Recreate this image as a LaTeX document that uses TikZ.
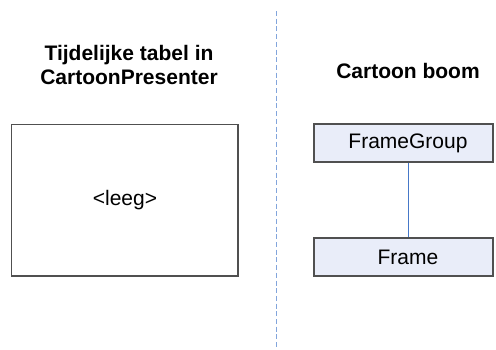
\documentclass[tikz,border=0pt]{standalone}
\usepackage{fontspec}
\setmainfont{Liberation Sans}
\definecolor{boxfill}{RGB}{233,237,249}
\definecolor{boxline}{RGB}{80,80,80}
\definecolor{divider}{RGB}{130,165,220}
\definecolor{link}{RGB}{70,120,200}
\begin{document}
\begin{tikzpicture}[x=1pt,y=-1pt,
  title/.style={font=\fontsize{21}{24}\selectfont\bfseries, align=center, inner sep=0pt},
  plainbox/.style={draw=boxline, line width=1.2pt, fill=white, minimum width=226.5pt, minimum height=151.5pt, inner sep=0pt, font=\fontsize{21}{24}\selectfont},
  treebox/.style={draw=boxline, line width=1.2pt, fill=boxfill, minimum width=179pt, minimum height=38pt, inner sep=0pt, font=\fontsize{21}{24}\selectfont},
  link/.style={draw=link, line width=1pt},
  divline/.style={draw=divider, line width=1pt, dash pattern=on 5pt off 2.7pt}]
\useasboundingbox (0,0) rectangle (496,349);
\fill[white] (0,0) rectangle (496,349);
% divider
\coordinate (dtop) at (276,11);
\coordinate (dbot) at (276,347);
\draw[divline] (dtop) -- (dbot);
% titles
\node[title] (lt) at (129,65) {Tijdelijke tabel in\\CartoonPresenter};
\node[title, anchor=base] (rt) at (408,78) {Cartoon boom};
% left box
\node[plainbox] (tbl) at (124.75,200.25) {\hspace*{0.5pt}<leeg>};
% tree
\node[treebox] (fg) at (403.5,143) {\hspace*{9pt}FrameGroup};
\node[treebox] (fr) at (403.5,257) {\hspace*{9pt}Frame};
\draw[link] ([xshift=4.5pt]fg.south) -- ([xshift=4.5pt]fr.north);
\end{tikzpicture}
\end{document}
